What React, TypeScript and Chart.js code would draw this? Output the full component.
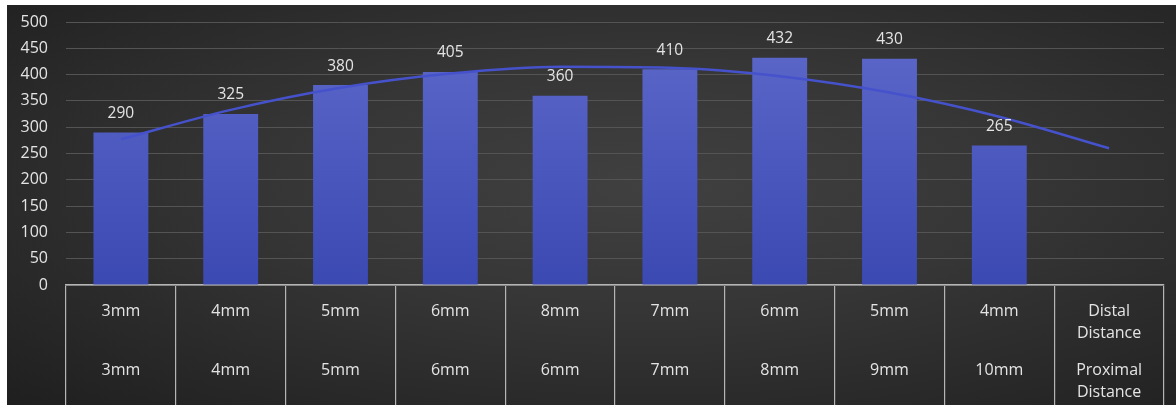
import React, { useEffect, useRef } from "react";
import { Chart, registerables } from "chart.js";

Chart.register(...registerables);

const categories = ["c1", "c2", "c3", "c4", "c5", "c6", "c7", "c8", "c9", "c10"];
const distalLabels: string[][] = [["3mm"], ["4mm"], ["5mm"], ["6mm"], ["8mm"], ["7mm"], ["6mm"], ["5mm"], ["4mm"], ["Distal", "Distance"]];
const proximalLabels: string[][] = [["3mm"], ["4mm"], ["5mm"], ["6mm"], ["6mm"], ["7mm"], ["8mm"], ["9mm"], ["10mm"], ["Proximal", "Distance"]];
const barValues: (number | null)[] = [290, 325, 380, 405, 360, 410, 432, 430, 265, null];
const trendValues: number[] = [277, 333, 375, 402, 415, 413, 397, 366, 320, 260];
const yTicks = [0, 50, 100, 150, 200, 250, 300, 350, 400, 450, 500];

const FONT = "'Open Sans', 'Noto Sans', sans-serif";
const TEXT = "#e4e4e4";

const tablePlugin = {
  id: "tableLabels",
  afterDraw(chart: any) {
    const ctx = chart.ctx;
    const x = chart.scales.x;
    const bottom = chart.chartArea.bottom;
    ctx.save();
    ctx.fillStyle = TEXT;
    ctx.font = `16px ${FONT}`;
    ctx.textAlign = "center";
    ctx.textBaseline = "middle";
    categories.forEach((_, i) => {
      const px = x.getPixelForValue(i);
      distalLabels[i].forEach((t, k) => ctx.fillText(t, px, bottom + 26 + k * 22));
      proximalLabels[i].forEach((t, k) => ctx.fillText(t, px, bottom + 85 + k * 22));
    });
    ctx.restore();
  },
};

const valueLabelPlugin = {
  id: "valueLabels",
  afterDatasetsDraw(chart: any) {
    const ctx = chart.ctx;
    const meta = chart.getDatasetMeta(0);
    ctx.save();
    ctx.fillStyle = TEXT;
    ctx.font = `15.5px ${FONT}`;
    ctx.textAlign = "center";
    ctx.textBaseline = "middle";
    meta.data.forEach((el: any, i: number) => {
      const v = barValues[i];
      if (v == null) return;
      ctx.fillText(String(v), el.x, el.y - 19);
    });
    ctx.restore();
  },
};

export default function App() {
  const ref = useRef<HTMLCanvasElement>(null);
  useEffect(() => {
    if (!ref.current) return;
    const chart = new Chart(ref.current, {
      type: "bar",
      data: {
        labels: categories,
        datasets: [
          {
            type: "bar",
            data: barValues,
            backgroundColor: (c: any) => {
              const area = c.chart.chartArea;
              if (!area) return "#4b58bf";
              const g = c.chart.ctx.createLinearGradient(0, area.top, 0, area.bottom);
              g.addColorStop(0, "#5e69ca");
              g.addColorStop(1, "#3b49b2");
              return g;
            },
            borderWidth: 0,
            categoryPercentage: 1,
            barPercentage: 0.5,
            order: 2,
          },
          {
            type: "line",
            data: trendValues,
            borderColor: "#4552cb",
            borderWidth: 2.5,
            pointRadius: 0,
            tension: 0.4,
            cubicInterpolationMode: "monotone",
            fill: false,
            order: 1,
          } as any,
        ],
      },
      options: {
        responsive: false,
        animation: false,
        layout: { padding: { top: 17, right: 12, left: 0, bottom: 0 } },
        plugins: { legend: { display: false }, tooltip: { enabled: false } },
        scales: {
          x: {
            offset: true,
            ticks: { display: false },
            grid: {
              offset: true,
              drawOnChartArea: false,
              drawTicks: true,
              tickLength: 125,
              color: "#b5b5b5",
              lineWidth: 1.2,
            },
            border: { display: true, color: "#b5b5b5", width: 1.5 },
            afterFit: (s: any) => {
              s.height = 120;
            },
          },
          y: {
            min: 0,
            max: 500,
            afterBuildTicks: (s: any) => {
              s.ticks = yTicks.map((v) => ({ value: v }));
            },
            ticks: {
              color: TEXT,
              font: { family: FONT, size: 16 },
              padding: 6,
            },
            grid: {
              color: "#545454",
              lineWidth: 1,
              drawTicks: true,
              tickLength: 12,
              tickColor: "rgba(0,0,0,0)",
            },
            border: { display: false },
            afterFit: (s: any) => {
              s.width = 59;
            },
          },
        },
      },
      plugins: [tablePlugin, valueLabelPlugin],
    });
    return () => chart.destroy();
  }, []);
  return (
    <div
      style={{
        position: "absolute",
        left: 7,
        top: 5,
        width: 1169,
        height: 400,
        background: "radial-gradient(ellipse at 55% 45%, #404040 0%, #363636 40%, #1f1f1f 100%)",
        overflow: "hidden",
      }}
    >
      <canvas ref={ref} width={1169} height={400} style={{ display: "block" }} />
    </div>
  );
}
